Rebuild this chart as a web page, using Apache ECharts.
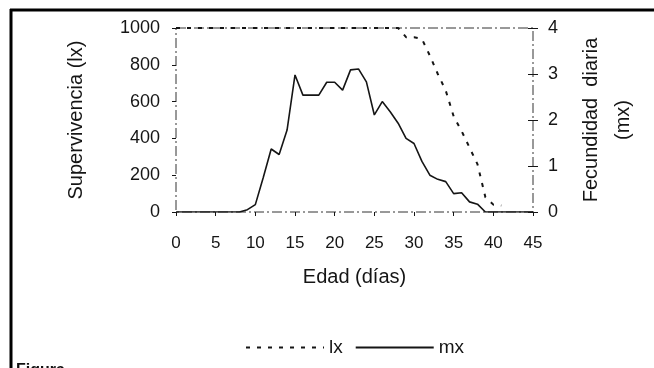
<!DOCTYPE html>
<html>
<head>
<meta charset="utf-8">
<script src="https://cdn.jsdelivr.net/npm/echarts@6/dist/echarts.min.js"></script>
<style>
  html, body { margin: 0; padding: 0; background: #fff; }
  #chart { width: 654px; height: 368px; }
</style>
</head>
<body>
<div id="chart"></div>
<script>
// edad (días)
const days = [
  0, 1, 2, 3, 4, 5, 6, 7, 8, 9, 10, 11, 12, 13, 14, 15, 16, 17, 18, 19, 20, 21, 22,
  23, 24, 25, 26, 27, 28, 29, 30, 31, 32, 33, 34, 35, 36, 37, 38, 39, 40, 41, 42,
  43, 44, 45,
]
// supervivencia lx (eje izquierdo)
const lx = [
  1000, 1000, 1000, 1000, 1000, 1000, 1000, 1000, 1000, 1000, 1000, 1000, 1000,
  1000, 1000, 1000, 1000, 1000, 1000, 1000, 1000, 1000, 1000, 1000, 1000, 1000,
  1000, 1000, 1000, 950, 950, 940, 850, 750, 660, 520, 440, 350, 260, 80, 40, 35,
  null, null, null, null,
]
// fecundidad diaria mx (eje derecho)
const mx = [
  0, 0, 0, 0, 0, 0, 0, 0, 0, 0.05, 0.16, 0.75, 1.37, 1.25, 1.78, 2.98, 2.54, 2.54,
  2.54, 2.82, 2.82, 2.65, 3.09, 3.11, 2.83, 2.11, 2.4, 2.18, 1.93, 1.6, 1.49, 1.1,
  0.8, 0.71, 0.66, 0.4, 0.42, 0.22, 0.17, 0, 0, 0, 0, 0, 0, 0,
]
const leftTicks = [0, 200, 400, 600, 800, 1000]
const rightTicks = [0, 1, 2, 3, 4]

const font = 'Liberation Sans, Arial, sans-serif'
const ink = '#151515'

const chart = echarts.init(document.getElementById('chart'), null, { renderer: 'canvas' })
chart.setOption({
  animation: false,
  backgroundColor: '#fff',
  grid: {
    left: 176,
    right: 121,
    top: 28,
    bottom: 156,
    show: true,
    borderColor: '#333',
    borderWidth: 1,
    borderType: [10, 3, 2, 3],
  },
  legend: {
    data: ['lx', 'mx'],
    top: 333,
    left: 240,
    itemWidth: 78,
    itemHeight: 14,
    itemGap: 12,
    itemStyle: { opacity: 0 },
    textStyle: { fontFamily: font, fontSize: 19, color: ink },
  },
  xAxis: {
    type: 'value',
    min: 0,
    max: 45,
    interval: 5,
    name: 'Edad (días)',
    nameLocation: 'middle',
    nameGap: 55,
    nameTextStyle: { fontFamily: font, fontSize: 20, color: ink },
    axisLine: { show: false },
    axisTick: { show: true, length: 4, lineStyle: { color: ink } },
    axisLabel: { margin: 23, fontFamily: font, fontSize: 17, color: ink },
    splitLine: { show: false },
  },
  yAxis: [
    {
      type: 'value',
      position: 'left',
      min: leftTicks[0],
      max: leftTicks[leftTicks.length - 1],
      interval: 200,
      name: 'Supervivencia (lx)',
      nameLocation: 'middle',
      nameGap: 90,
      nameTextStyle: { fontFamily: font, fontSize: 20, color: ink },
      axisLine: { show: false },
      axisTick: { show: true, length: 4, lineStyle: { color: ink } },
      axisLabel: { margin: 16, fontFamily: font, fontSize: 18, color: ink, formatter: (v) => String(v) },
      splitLine: { show: false },
    },
    {
      type: 'value',
      position: 'right',
      min: rightTicks[0],
      max: rightTicks[rightTicks.length - 1],
      interval: 1,
      name: 'Fecundidad  diaria\n(mx)',
      nameLocation: 'middle',
      nameGap: 42,
      nameRotate: 90,
      nameTextStyle: { fontFamily: font, fontSize: 20, color: ink, lineHeight: 32, align: 'center' },
      axisLine: { show: false },
      axisTick: { show: true, length: 5, lineStyle: { color: ink } },
      axisLabel: { margin: 15, fontFamily: font, fontSize: 18, color: ink },
      splitLine: { show: false },
    },
    {
      // marcas interiores del eje derecho (cruces)
      type: 'value',
      position: 'right',
      min: rightTicks[0],
      max: rightTicks[rightTicks.length - 1],
      interval: 1,
      axisLine: { show: false },
      axisTick: { show: true, inside: true, length: 5, lineStyle: { color: ink } },
      axisLabel: { show: false },
      splitLine: { show: false },
    },
  ],
  series: [
    {
      name: 'lx',
      type: 'line',
      yAxisIndex: 0,
      data: days.map((d, i) => [d, lx[i]]),
      symbol: 'none',
      lineStyle: { color: ink, width: 2, type: [4, 7] },
      itemStyle: { color: ink },
      z: 3,
    },
    {
      name: 'mx',
      type: 'line',
      yAxisIndex: 1,
      data: days.map((d, i) => [d, mx[i]]),
      symbol: 'none',
      lineStyle: { color: ink, width: 1.6 },
      itemStyle: { color: ink },
      z: 4,
    },
  ],
  graphic: [
    { type: 'line', shape: { x1: 10, y1: 10, x2: 654, y2: 10 }, style: { stroke: '#000', lineWidth: 3 } },
    { type: 'line', shape: { x1: 11, y1: 9, x2: 11, y2: 368 }, style: { stroke: '#000', lineWidth: 3 } },
    { type: 'text', left: 16, top: 363, style: { text: 'Figura', font: 'bold 16px ' + font, fill: '#111' } },
  ],
})
</script>
</body>
</html>
